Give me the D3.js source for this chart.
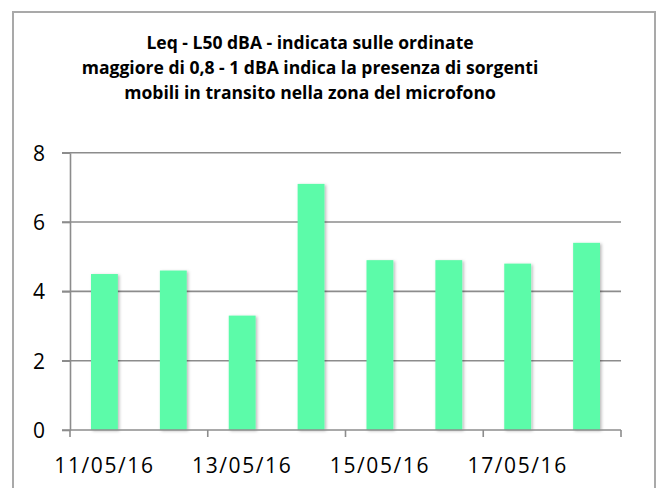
<!DOCTYPE html>
<html>
<head>
<meta charset="utf-8">
<script src="https://cdn.jsdelivr.net/npm/d3@7"></script>
<style>
  html, body { margin: 0; padding: 0; background: #fff; }
  svg { display: block; }
</style>
</head>
<body>
<svg id="chart" width="657" height="488"></svg>
<script>
// Daily Leq - L50 difference (dBA)
const categories = ["11/05/16", "12/05/16", "13/05/16", "14/05/16", "15/05/16", "16/05/16", "17/05/16", "18/05/16"];
const values = [4.5, 4.6, 3.3, 7.1, 4.9, 4.9, 4.8, 5.4];
const yTicks = [0, 2, 4, 6, 8];
const xLabelCategories = ["11/05/16", "13/05/16", "15/05/16", "17/05/16"];
const titleLines = [
  "Leq - L50 dBA - indicata sulle ordinate",
  "maggiore di 0,8 - 1 dBA indica la presenza di sorgenti",
  "mobili in transito nella zona del microfono"
];

const svg = d3.select("#chart");
const font = "'Open Sans', sans-serif";
const axisColor = "#8c8c8c";

const plotLeft = 70, plotRight = 621, plotTop = 152.7, plotBottom = 430;

const x = d3.scaleBand()
  .domain(categories)
  .range([plotLeft, plotRight])
  .paddingInner(0.61)
  .paddingOuter(0.305);

const y = d3.scaleLinear().domain([0, 8]).range([plotBottom, plotTop]);

// soft shadow under the bars
const defs = svg.append("defs");
const f = defs.append("filter").attr("id", "shadow")
  .attr("x", "-30%").attr("y", "-10%").attr("width", "160%").attr("height", "120%");
f.append("feDropShadow")
  .attr("dx", 1.5).attr("dy", 1).attr("stdDeviation", 1.6)
  .attr("flood-color", "#000").attr("flood-opacity", 0.28);

// outer frame
svg.append("rect")
  .attr("x", 13).attr("y", 12).attr("width", 642).attr("height", 500)
  .attr("fill", "#fff").attr("stroke", "#a9a9a9").attr("stroke-width", 2);

// title, sized so the longest line spans about 457px
const title = svg.append("g").selectAll("text")
  .data(titleLines)
  .join("text")
  .attr("x", 310)
  .attr("y", (d, i) => 48.5 + i * 25)
  .attr("text-anchor", "middle")
  .attr("font-family", font)
  .attr("font-weight", "bold")
  .attr("font-size", 16)
  .attr("fill", "#000")
  .text(d => d);
const widest = d3.max(title.nodes(), n => n.getComputedTextLength());
title.attr("font-size", 16 * 457 / widest);

// horizontal gridlines
svg.append("g").selectAll("line")
  .data(yTicks.filter(t => t > 0))
  .join("line")
  .attr("x1", plotLeft - 8).attr("x2", plotRight)
  .attr("y1", d => y(d)).attr("y2", d => y(d))
  .attr("stroke", axisColor).attr("stroke-width", 1.6);

// bars
svg.append("g").selectAll("rect")
  .data(values)
  .join("rect")
  .attr("x", (d, i) => x(categories[i]))
  .attr("width", x.bandwidth())
  .attr("y", d => y(d))
  .attr("height", d => y(0) - y(d))
  .attr("fill", "#5cfba9")
  .attr("filter", "url(#shadow)");

// y axis
const yAxis = svg.append("g")
  .attr("transform", `translate(${plotLeft},0)`)
  .call(d3.axisLeft(y).tickValues(yTicks).tickSize(8).tickSizeOuter(0).tickPadding(17));
yAxis.select(".domain").attr("stroke", axisColor).attr("stroke-width", 1.6);
yAxis.selectAll(".tick line").attr("stroke", axisColor).attr("stroke-width", 1.6);
yAxis.selectAll(".tick text")
  .attr("font-family", font).attr("font-size", 21).attr("fill", "#000")
  .attr("dy", "0.36em");

// x axis: tick marks at every other category boundary
const boundaries = d3.range(0, categories.length + 1, 2).map(i => plotLeft + i * x.step());
svg.append("line")
  .attr("x1", plotLeft - 8).attr("x2", plotRight)
  .attr("y1", plotBottom).attr("y2", plotBottom)
  .attr("stroke", axisColor).attr("stroke-width", 1.6);
svg.append("g").selectAll("line")
  .data(boundaries)
  .join("line")
  .attr("x1", d => d).attr("x2", d => d)
  .attr("y1", plotBottom).attr("y2", plotBottom + 7)
  .attr("stroke", axisColor).attr("stroke-width", 1.6);

svg.append("g").selectAll("text")
  .data(xLabelCategories)
  .join("text")
  .attr("x", d => x(d) + x.bandwidth() / 2)
  .attr("y", 473)
  .attr("text-anchor", "middle")
  .attr("font-family", font)
  .attr("font-size", 21)
  .attr("letter-spacing", 1.6)
  .attr("fill", "#000")
  .text(d => d);
</script>
</body>
</html>
